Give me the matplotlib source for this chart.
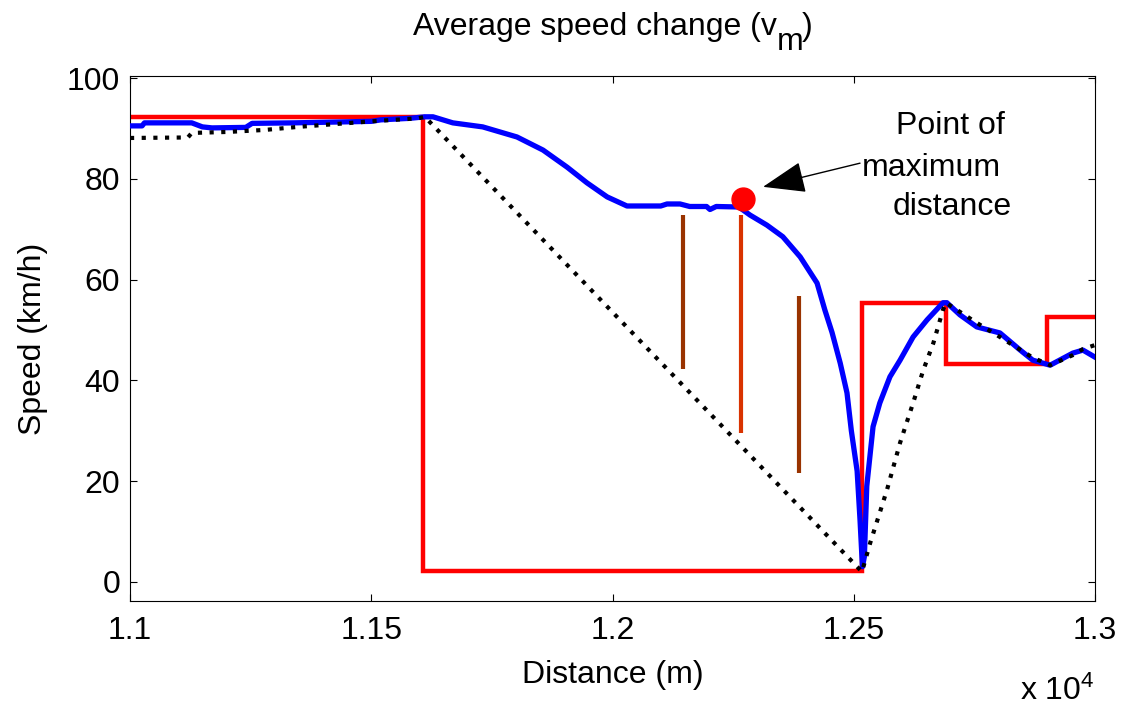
import matplotlib
matplotlib.use("Agg")
import matplotlib.pyplot as plt
from matplotlib.ticker import FuncFormatter

plt.rcParams['font.family'] = ['Liberation Sans', 'DejaVu Sans']
plt.rcParams['mathtext.fontset'] = 'custom'
plt.rcParams['mathtext.rm'] = 'Liberation Sans'
plt.rcParams['mathtext.it'] = 'Liberation Sans'

# ---- data ----
blue_x = [11000, 11025, 11030, 11128, 11150, 11170, 11240, 11253, 11340, 11500, 11520,
          11580, 11611, 11628, 11669, 11731, 11802, 11856, 11906, 11947, 11989, 12030,
          12100, 12113, 12140, 12160, 12195, 12202, 12215, 12262, 12285, 12320, 12353,
          12389, 12424, 12440, 12455, 12472, 12486, 12495, 12507, 12513, 12518, 12522,
          12527, 12540, 12554, 12575, 12596, 12623, 12652, 12685, 12693, 12720, 12755,
          12803, 12845, 12871, 12907, 12954, 12975, 13000]
blue_y = [90.5, 90.5, 91.1, 91.1, 90.3, 90.1, 90.2, 91.0, 91.1, 91.4, 91.7,
          92.0, 92.3, 92.3, 91.1, 90.3, 88.3, 85.7, 82.3, 79.2, 76.4, 74.6,
          74.6, 75.0, 75.0, 74.5, 74.5, 73.9, 74.5, 74.4, 72.8, 70.8, 68.5,
          64.5, 59.3, 54.0, 49.5, 43.4, 37.5, 30.0, 22.0, 12.3, 3.0, 5.0,
          19.0, 30.8, 35.5, 40.7, 44.0, 48.6, 52.0, 55.4, 55.4, 53.0, 50.6,
          49.4, 46.0, 44.0, 43.0, 45.4, 46.0, 44.6]

black_x = [11000, 11120, 11128, 11203, 11280, 11348, 11431, 11514, 11597, 11611,
           12517, 12534, 12569, 12596, 12623, 12644, 12665, 12685, 12691, 12755,
           12803, 12871, 12907, 12954, 12975, 13000]
black_y = [88.1, 88.2, 89.1, 89.3, 89.7, 90.3, 90.9, 91.5, 92.0, 92.3,
           2.0, 7.7, 18.3, 27.6, 35.5, 42.0, 47.4, 54.0, 55.4, 51.4,
           48.6, 44.5, 43.0, 45.0, 46.2, 47.0]

red_edges = [11000, 11607, 12517, 12691, 12900, 13000]
red_levels = [92.2, 2.2, 55.4, 43.2, 52.6]

bar_x = [12146, 12266, 12387]
bar_ymin = [42.3, 29.6, 21.6]
bar_ymax = [72.8, 72.8, 56.7]
bar_colors = ['#993300', '#D93300', '#993300']

max_pt_x = [12270]
max_pt_y = [76.0]

xticks = [11000, 11500, 12000, 12500, 13000]
yticks = [0, 20, 40, 60, 80, 100]

# ---- figure ----
W, H = 1123, 706
fig = plt.figure(figsize=(W / 100, H / 100), dpi=100)
ax = fig.add_axes([130/W, 1 - 601/H, (1095 - 130)/W, (601 - 76)/H])

ax.stairs(red_levels, red_edges, baseline=None, color='#FF0000', lw=3.2, zorder=2)
ax.plot(blue_x, blue_y, color='#0000FF', lw=3.8, zorder=3)
ax.plot(black_x, black_y, color='black', lw=3.0, linestyle=(0, (1, 1.8)),
        dash_capstyle='butt', zorder=4)
ax.vlines(bar_x, bar_ymin, bar_ymax, colors=bar_colors, lw=3.0, zorder=3)
ax.plot(max_pt_x, max_pt_y, 'o', color='#FF0000', markersize=16.5, zorder=5)

ax.annotate('', xy=(12312, 78.4), xytext=(12513, 83.1),
            arrowprops=dict(arrowstyle='-|>,head_length=1.35,head_width=0.5',
                            mutation_scale=20, lw=1.0, color='black',
                            shrinkA=0, shrinkB=0))

fs = 23
ax.text(12700, 88.8, 'Point of', fontsize=fs, ha='center', va='baseline')
ax.text(12660, 80.6, 'maximum', fontsize=fs, ha='center', va='baseline')
ax.text(12705, 72.8, 'distance', fontsize=fs, ha='center', va='baseline')

ax.set_xlim(11000, 13000)
ax.set_ylim(-3.8, 100.4)
ax.set_xticks(xticks)
ax.set_yticks(yticks)
ax.xaxis.set_major_formatter(FuncFormatter(lambda v, p: f'{v/1e4:g}'))
ax.tick_params(direction='in', length=5, width=0.8, labelsize=fs,
               top=True, right=True)
ax.tick_params(axis='x', pad=11)
ax.tick_params(axis='y', pad=7)
for s in ax.spines.values():
    s.set_linewidth(0.8)

# title with large MATLAB-style subscript
t1 = fig.text(413/W, 1 - 35/H, 'Average speed change (v', fontsize=fs,
              ha='left', va='baseline')
t2 = fig.text(0, 0, 'm', fontsize=fs, ha='left', va='baseline')
t3 = fig.text(0, 0, ')', fontsize=fs, ha='left', va='baseline')
fig.canvas.draw()
r = fig.canvas.get_renderer()
bb1 = t1.get_window_extent(r)
t2.set_position((bb1.x1 / W, 1 - 50/H))
fig.canvas.draw()
bb2 = t2.get_window_extent(r)
t3.set_position((bb2.x1 / W - 2/W, 1 - 35/H))

ax.set_xlabel('Distance (m)', fontsize=fs)
ax.set_ylabel('Speed (km/h)', fontsize=fs)
ax.xaxis.set_label_coords(0.5, -0.112)
ax.yaxis.set_label_coords(-0.085, 0.5)

fig.text(1095/W, 1 - 700/H, r'x 10$^{\mathrm{4}}$', fontsize=fs,
         ha='right', va='baseline')

fig.savefig('out.png', dpi=100)
